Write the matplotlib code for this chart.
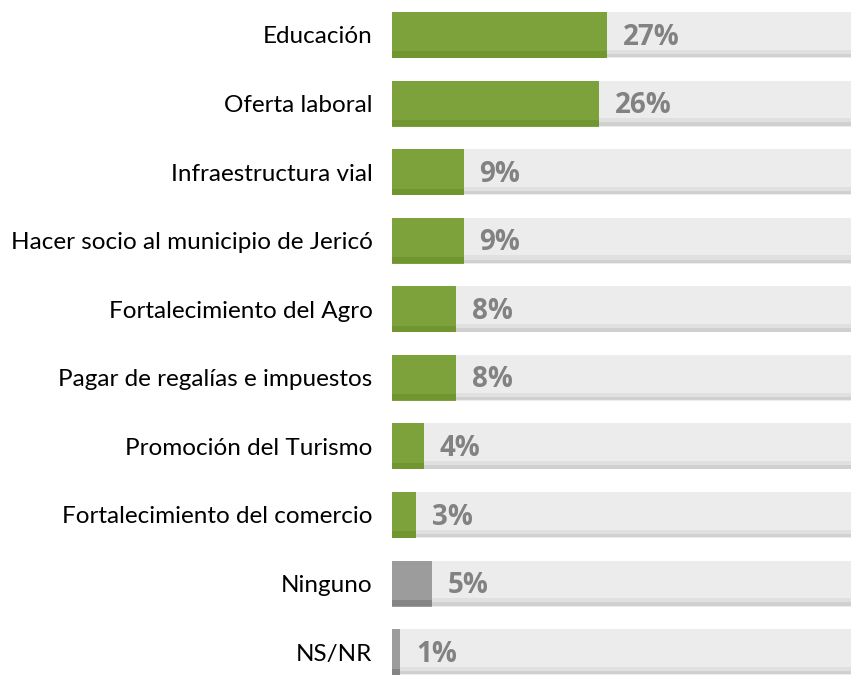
import numpy as np
import matplotlib.pyplot as plt

# data
categories = ["Educación", "Oferta laboral", "Infraestructura vial",
              "Hacer socio al municipio de Jericó", "Fortalecimiento del Agro",
              "Pagar de regalías e impuestos", "Promoción del Turismo",
              "Fortalecimiento del comercio", "Ninguno", "NS/NR"]
values = [27, 26, 9, 9, 8, 8, 4, 3, 5, 1]
labels = ["27%", "26%", "9%", "9%", "8%", "8%", "4%", "3%", "5%", "1%"]
is_green = [True] * 8 + [False] * 2

green = "#7da23b"
green_dark = "#71952f"
grey = "#9c9c9c"
grey_dark = "#858585"

fig = plt.figure(figsize=(8.51, 6.83), dpi=100)
ax = fig.add_axes([392 / 851, 0, 1 - 392 / 851, 1])

y = np.arange(len(categories))
h = 0.67
xmax = 57.7

# background track, a little darker towards its lower edge
ax.barh(y, 100, height=h, color="#ececec", zorder=1)
ax.barh(y + h / 2 - 0.07, 100, height=0.1, color="#e0e0e0", zorder=1.1)
ax.barh(y + h / 2 - 0.035, 100, height=0.05, color="#d0d0d0", zorder=1.2)

cols = [green if g else grey for g in is_green]
dark = [green_dark if g else grey_dark for g in is_green]
ax.barh(y, values, height=h, color=cols, zorder=2)
ax.barh(y + h / 2 - 0.05, values, height=0.09, color=dark, zorder=2.1)

for yi, v, lab in zip(y, values, labels):
    ax.text(v + 2.0, yi + 0.03, lab, va="center", ha="left",
            fontsize=20, fontweight="bold", color="#828282",
            family="Open Sans", zorder=3)

ax.set_xlim(0, xmax)
ax.set_ylim(9.45, -0.51)
ax.set_yticks(y)
ax.set_yticklabels(categories, fontsize=17.5, family="Lato")
ax.tick_params(axis="y", length=0, pad=14)
ax.set_xticks([])
for s in ax.spines.values():
    s.set_visible(False)

fig.savefig("out.png", dpi=100)
